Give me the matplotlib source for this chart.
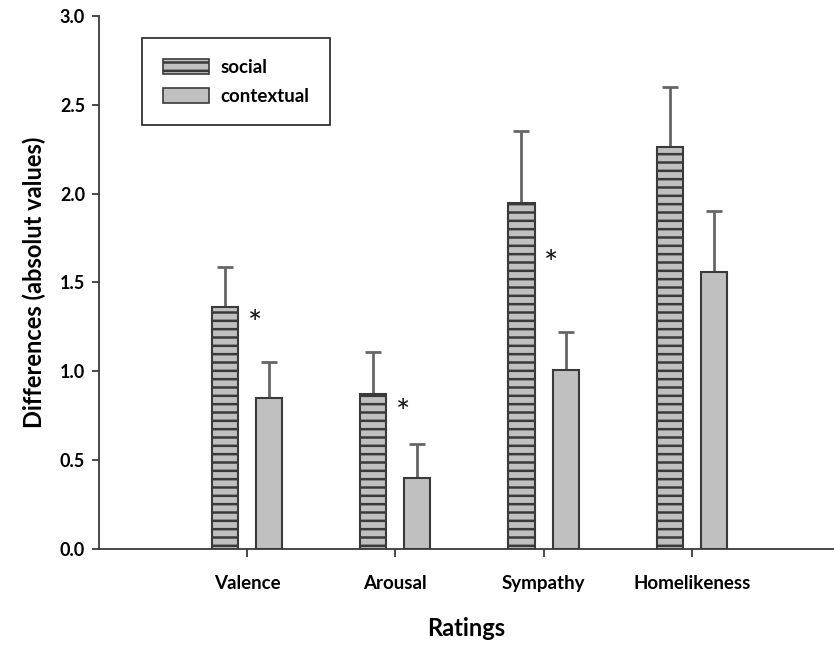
import matplotlib
matplotlib.use("Agg")
import matplotlib.pyplot as plt
from matplotlib.patches import Patch
import numpy as np

categories = ["Valence", "Arousal", "Sympathy", "Homelikeness"]
social = [1.36, 0.87, 1.95, 2.26]
social_err = [0.23, 0.24, 0.40, 0.34]
contextual = [0.85, 0.40, 1.01, 1.56]
contextual_err = [0.20, 0.19, 0.21, 0.34]
# asterisk marks: (category index, y)
stars_x = [0, 1, 2]
stars_y = [1.26, 0.76, 1.60]

plt.rcParams["font.family"] = ["Lato", "DejaVu Sans"]
plt.rcParams["hatch.linewidth"] = 1.8
plt.rcParams["hatch.color"] = "#3a3a3a"

EDGE = "#3a3a3a"
FILL = "#c0c0c0"
ERR = "#666666"

fig = plt.figure(figsize=(8.34, 6.46), dpi=100)
ax = fig.add_axes([0.1187, 0.1502, 0.8813, 0.825])

x = np.arange(1, len(categories) + 1)
w = 0.176
off = 0.149
ax.bar(x - off, social, w, color=FILL, edgecolor=EDGE, linewidth=1.5, hatch="--", zorder=2)
ax.bar(x + off, contextual, w, color=FILL, edgecolor=EDGE, linewidth=1.5, zorder=2)
ax.errorbar(x - off, social, yerr=[np.zeros(len(social)), social_err], fmt="none",
            ecolor=ERR, elinewidth=2, capsize=6, capthick=2, zorder=1)
ax.errorbar(x + off, contextual, yerr=[np.zeros(len(contextual)), contextual_err], fmt="none",
            ecolor=ERR, elinewidth=2, capsize=6, capthick=2, zorder=1)

for i, y in zip(stars_x, stars_y):
    ax.text(x[i] + 0.05, y, "*", ha="center", va="center", fontsize=24, color="#111111")

ax.set_xlim(0, 4.96)
ax.set_ylim(0, 3.0)
ax.set_yticks(np.arange(0, 3.01, 0.5))
ax.set_yticklabels([f"{v:.1f}" for v in np.arange(0, 3.01, 0.5)], fontweight="bold", fontsize=13)
ax.set_xticks(x)
ax.set_xticklabels(categories, fontweight="bold", fontsize=13.5)
ax.tick_params(axis="x", length=6, width=1.3, color=EDGE, pad=13)
ax.tick_params(axis="y", length=5, width=1.3, color=EDGE, pad=5)
for s in ("top", "right"):
    ax.spines[s].set_visible(False)
for s in ("left", "bottom"):
    ax.spines[s].set_color(EDGE)
    ax.spines[s].set_linewidth(1.3)

ax.set_xlabel("Ratings", fontweight="bold", fontsize=17, labelpad=18)
ax.set_ylabel("Differences (absolut values)", fontweight="bold", fontsize=17, labelpad=10)

handles = [Patch(facecolor=FILL, edgecolor=EDGE, hatch="--", linewidth=1.2),
           Patch(facecolor=FILL, edgecolor=EDGE, linewidth=1.2)]
leg = ax.legend(handles, ["social", "contextual"], loc="upper left",
                bbox_to_anchor=(0.0585, 0.9587), fancybox=False, edgecolor="#222222",
                framealpha=1, prop={"weight": "bold", "size": 13.5},
                handlelength=2.45, handleheight=0.85, borderpad=1.1, labelspacing=0.65,
                handletextpad=0.65, borderaxespad=0)
leg.get_frame().set_linewidth(1.2)

fig.savefig("out.png", dpi=100)
